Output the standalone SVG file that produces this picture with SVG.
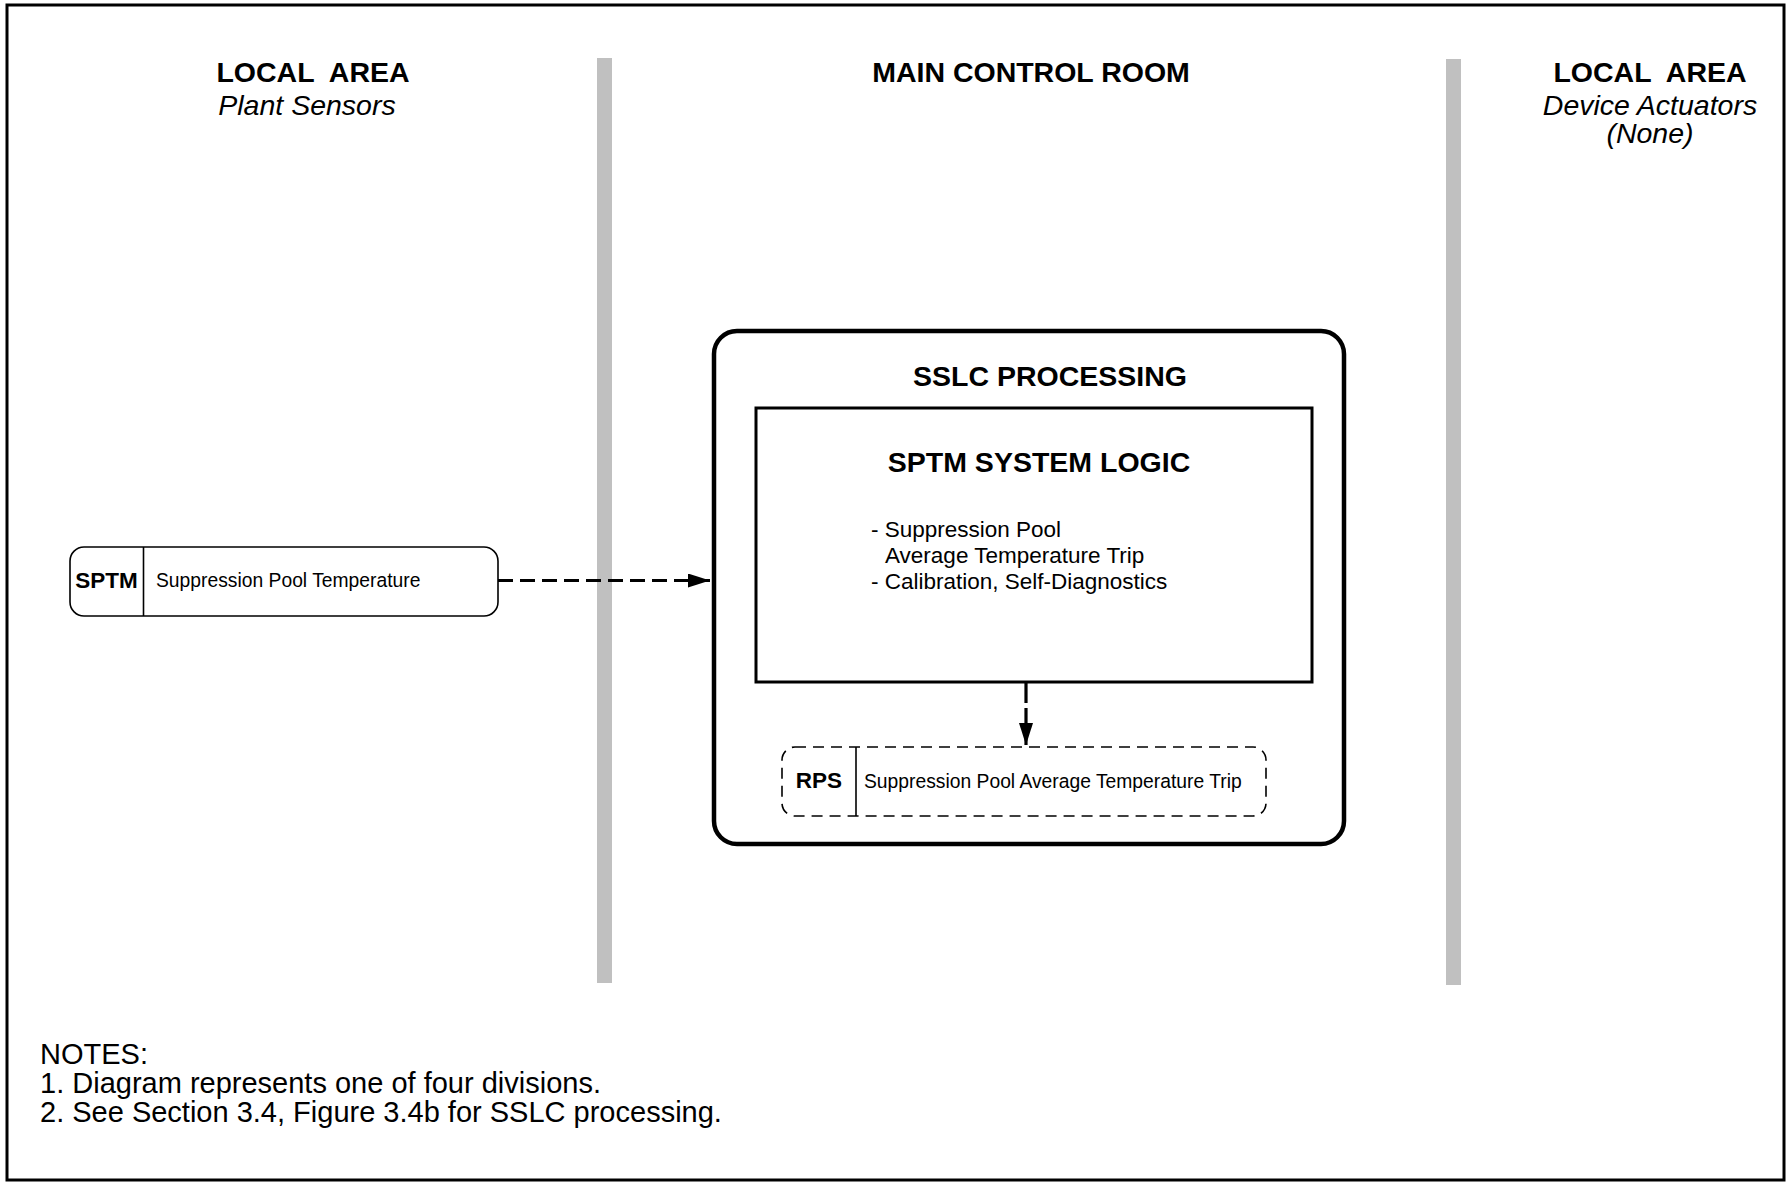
<svg xmlns="http://www.w3.org/2000/svg" width="1788" height="1183" viewBox="0 0 1788 1183">
<defs>
<style>
text{font-family:"Liberation Sans",Arial,sans-serif;fill:#000}
.h{font-size:28.5px;font-weight:bold}
.it{font-size:28.5px;font-style:italic}
.b{font-size:22.5px}
.s{font-size:19.3px}
.sb{font-size:22.5px;font-weight:bold}
.n{font-size:29px}
.bar{fill:#c0c0c0}
.conn{fill:none;stroke:#000;stroke-width:3.2}
</style>
<marker id="ah" viewBox="0 0 22 14" refX="22" refY="7" markerWidth="22" markerHeight="14" markerUnits="userSpaceOnUse" orient="auto">
<path d="M0,0 L22,7 L0,14 Z" fill="#000"/>
</marker>
</defs>
<rect x="0" y="0" width="1788" height="1183" fill="#fff"/>
<rect x="7" y="5" width="1777" height="1175" fill="none" stroke="#000" stroke-width="3"/>
<rect class="bar" x="597" y="58" width="15" height="925"/>
<rect class="bar" x="1446" y="59" width="15" height="926"/>

<g id="hdr-left">
<text class="h" x="313" y="82" text-anchor="middle" xml:space="preserve">LOCAL  AREA</text>
<text class="it" x="307" y="115" text-anchor="middle">Plant Sensors</text>
</g>
<g id="hdr-main">
<text class="h" x="1031" y="82" text-anchor="middle">MAIN CONTROL ROOM</text>
</g>
<g id="hdr-right">
<text class="h" x="1650" y="82" text-anchor="middle" xml:space="preserve">LOCAL  AREA</text>
<text class="it" x="1650" y="115" text-anchor="middle">Device Actuators</text>
<text class="it" x="1650" y="143" text-anchor="middle">(None)</text>
</g>

<g id="sslc">
<rect x="714" y="331" width="630" height="513" rx="23" ry="23" fill="none" stroke="#000" stroke-width="4.5"/>
<text class="h" x="1050" y="386" text-anchor="middle">SSLC PROCESSING</text>
</g>
<g id="sptm-logic">
<rect x="756" y="408" width="556" height="274" fill="none" stroke="#000" stroke-width="3"/>
<text class="h" x="1039" y="472" text-anchor="middle">SPTM SYSTEM LOGIC</text>
<text class="b" x="871" y="537">- Suppression Pool</text>
<text class="b" x="885" y="563">Average Temperature Trip</text>
<text class="b" x="871" y="589">- Calibration, Self-Diagnostics</text>
</g>
<g id="rps">
<rect x="782" y="747" width="484" height="69" rx="13" ry="13" fill="none" stroke="#000" stroke-width="1.6" stroke-dasharray="11 7"/>
<line x1="856" y1="747" x2="856" y2="816" stroke="#000" stroke-width="1.6"/>
<text class="sb" x="819" y="788" text-anchor="middle">RPS</text>
<text class="s" x="864" y="788">Suppression Pool Average Temperature Trip</text>
</g>
<g id="sptm">
<rect x="70" y="547" width="428" height="69" rx="14" ry="14" fill="#fff" stroke="#000" stroke-width="1.6"/>
<line x1="143.5" y1="547" x2="143.5" y2="616" stroke="#000" stroke-width="1.6"/>
<text class="sb" x="106.5" y="588" text-anchor="middle">SPTM</text>
<text class="s" x="156" y="587">Suppression Pool Temperature</text>
</g>

<g id="connectors">
<line class="conn" x1="498" y1="580.5" x2="710" y2="580.5" stroke-dasharray="15 7" marker-end="url(#ah)"/>
<line class="conn" x1="1026" y1="683" x2="1026" y2="745" stroke-dasharray="20 5" marker-end="url(#ah)"/>
</g>

<g id="notes">
<text class="n" x="40" y="1064">NOTES:</text>
<text class="n" x="40" y="1093">1. Diagram represents one of four divisions.</text>
<text class="n" x="40" y="1122">2. See Section 3.4, Figure 3.4b for SSLC processing.</text>
</g>
</svg>
